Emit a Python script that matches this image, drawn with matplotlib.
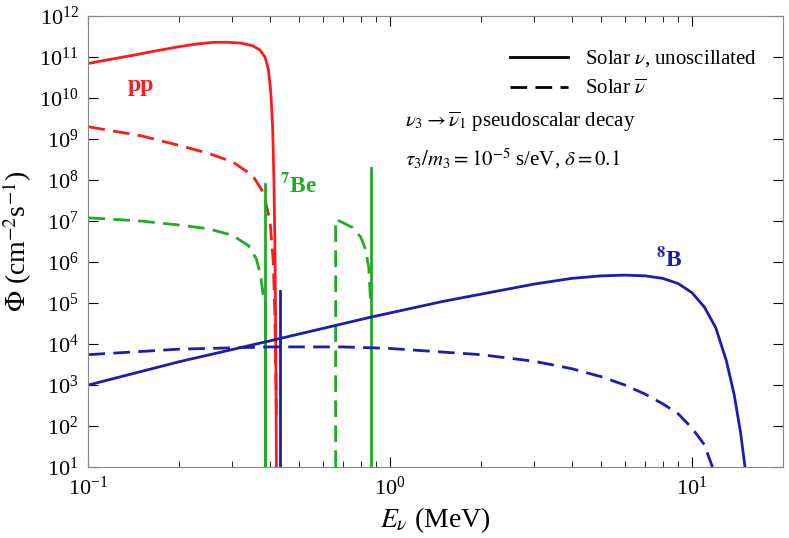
import matplotlib
matplotlib.use("Agg")
import matplotlib.pyplot as plt
from matplotlib.lines import Line2D

plt.rcParams['font.family'] = ['Liberation Serif', 'DejaVu Serif']
plt.rcParams['mathtext.fontset'] = 'stix'

pp_E = [0.1, 0.11, 0.12, 0.14, 0.17, 0.2, 0.23, 0.26, 0.29, 0.32, 0.35, 0.37, 0.385, 0.395, 0.402, 0.408, 0.412, 0.415, 0.418, 0.42]
pp_F = [7e10, 8e10, 9e10, 1.1e11, 1.45e11, 1.8e11, 2.1e11, 2.3e11, 2.3e11, 2.2e11, 1.9e11, 1.5e11, 1e11, 5e10, 1.5e10, 2e9, 1e8, 3e6, 1e4, 10]
ppb_E = [0.1, 0.15, 0.2, 0.25, 0.3, 0.35, 0.38, 0.40, 0.41, 0.415, 0.418, 0.42]
ppb_F = [2e9, 1.2e9, 7e8, 4.5e8, 2.8e8, 1.3e8, 5e7, 1e7, 1e6, 5e4, 2e3, 1.5e2]
be_line_E = [0.384, 0.862]
be_line_top = [8e7, 2e8]
be1_E = [0.1, 0.15, 0.2, 0.25, 0.3, 0.34, 0.36, 0.372, 0.378, 0.382, 0.384]
be1_F = [1.2e7, 1.0e7, 8e6, 6.5e6, 4.5e6, 2.5e6, 1.2e6, 5e5, 2e5, 1e5, 1e5]
be2_E = [0.66, 0.66, 0.7, 0.75, 0.8, 0.83, 0.85, 0.862]
be2_F = [10, 1.1e7, 9e6, 7e6, 4e6, 2e6, 7e5, 1e5]
pep_E = 0.43
pep_top = 2e5
b8_E = [0.1, 0.2, 0.42, 0.86, 1.5, 3, 4, 5, 6, 7, 8, 9, 10, 11, 12, 13, 13.8, 14.5, 15]
b8_F = [1e3, 3.7e3, 1.3e4, 4.5e4, 1.1e5, 2.9e5, 4e5, 4.6e5, 4.8e5, 4.6e5, 4e5, 3e5, 1.8e5, 8e4, 2.5e4, 4e3, 6e2, 70, 10]
b8b_E = [0.1, 0.2, 0.4, 0.7, 1, 2, 3, 4, 5, 6, 7, 8, 9, 10, 11, 11.7]
b8b_F = [5.5e3, 7.5e3, 8.5e3, 8.5e3, 7.8e3, 5.5e3, 3.8e3, 2.5e3, 1.6e3, 1e3, 6e2, 3.5e2, 2e2, 90, 35, 10]

red, green, blue = '#ff1a1a', '#22aa22', '#1c1cb0'
fig = plt.figure(figsize=(7.89, 5.38), dpi=100)
ax = fig.add_axes([0.112, 0.132, 0.88, 0.838])
lw = 2
ax.plot(pp_E, pp_F, color=red, lw=lw)
ax.plot(ppb_E, ppb_F, color=red, lw=lw, ls=(0, (6, 3)))
for e, t in zip(be_line_E, be_line_top):
    ax.plot([e, e], [10, t], color=green, lw=lw)
ax.plot(be1_E, be1_F, color=green, lw=lw, ls=(0, (6, 3)))
ax.plot([0.384, 0.384], [1e5, 10], color=green, lw=lw)
ax.plot(be2_E, be2_F, color=green, lw=lw, ls=(0, (6, 3)))
ax.plot([pep_E, pep_E], [10, pep_top], color=blue, lw=lw)
ax.plot(b8_E, b8_F, color=blue, lw=lw)
ax.plot(b8b_E, b8b_F, color=blue, lw=lw, ls=(0, (6, 3)))

ax.set_xscale('log'); ax.set_yscale('log')
ax.set_xlim(0.1, 20); ax.set_ylim(10, 1e12)
ax.set_yticks([10**k for k in range(1, 13)])
ax.tick_params(which='both', direction='in', top=True, right=True, labelsize=16, pad=7)
ax.tick_params(which='major', length=7)
ax.tick_params(which='minor', length=4)
ax.set_xlabel(r'$E_\nu$ (MeV)', fontsize=20)
ax.set_ylabel(r'$\Phi$ (cm$^{-2}$s$^{-1}$)', fontsize=20)
for s in ax.spines.values():
    s.set_color('#888888')

ax.text(0.135, 1.5e10, 'pp', color=red, fontsize=17, fontweight='bold')
ax.text(0.43, 5e7, r'$^{\mathbf{7}}$Be', color=green, fontsize=17, fontweight='bold')
ax.text(7.6, 8e5, r'$^{\mathbf{8}}$B', color=blue, fontsize=17, fontweight='bold')

handles = [Line2D([], [], color='k', lw=2), Line2D([], [], color='k', lw=2, ls=(0, (6, 3)))]
ax.legend(handles, [r'Solar $\nu$, unoscillated', r'Solar $\overline{\nu}$'], loc='upper right',
          bbox_to_anchor=(0.99, 0.97), frameon=False, fontsize=15, handlelength=2.8)
ax.text(1.12, 2e9, r'$\nu_3 \rightarrow \overline{\nu}_1$ pseudoscalar decay', fontsize=15)
ax.text(1.12, 2.3e8, r'$\tau_3/m_3 = 10^{-5}$ s/eV, $\delta = 0.1$', fontsize=15)
fig.savefig('out.png', dpi=100)
